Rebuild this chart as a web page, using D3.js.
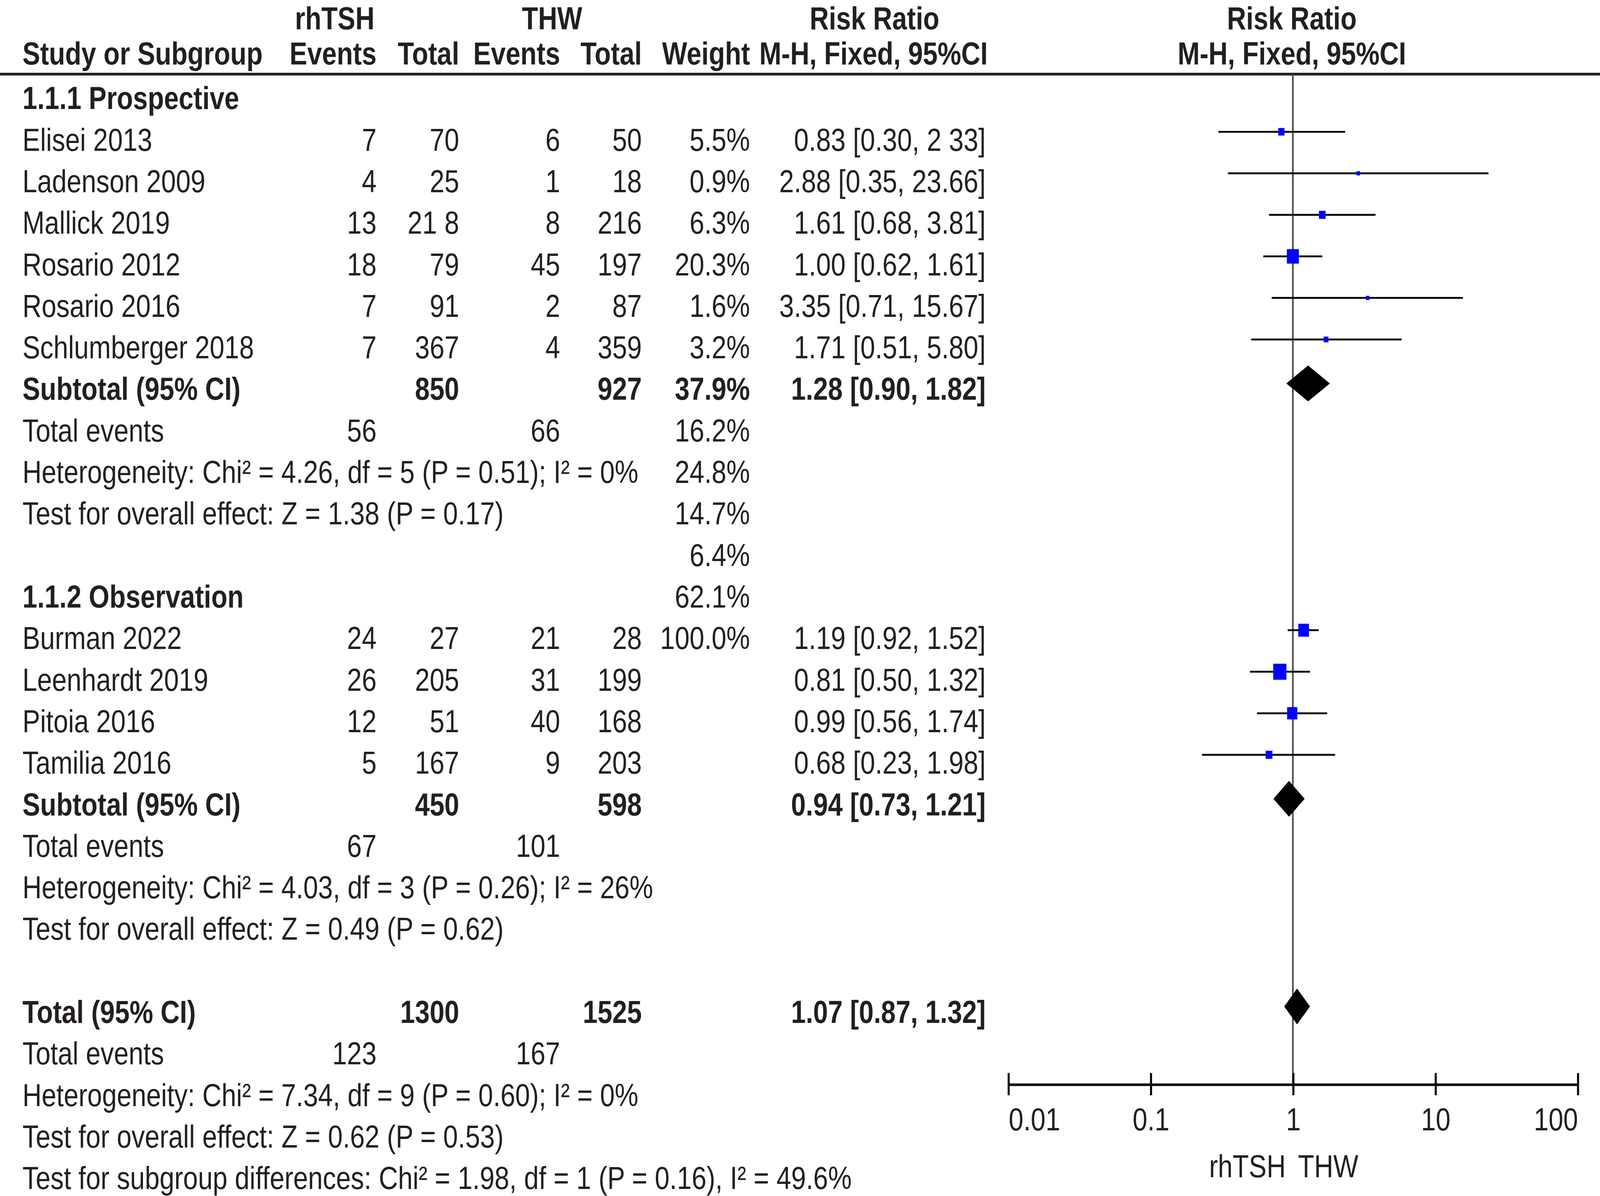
<!DOCTYPE html>
<html>
<head>
<meta charset="utf-8">
<script src="https://cdn.jsdelivr.net/npm/d3@7"></script>
<style>
  html, body { margin: 0; padding: 0; background: #fff; overflow: hidden; }
  svg { display: block; width: 100vw; height: 100vh; }
</style>
</head>
<body>
<div class="container"></div>
<script>
// table rows, one entry per printed line
const rowLabels = [
  '1.1.1 Prospective',
  'Elisei 2013',
  'Ladenson 2009',
  'Mallick 2019',
  'Rosario 2012',
  'Rosario 2016',
  'Schlumberger 2018',
  'Subtotal (95% CI)',
  'Total events',
  'Heterogeneity: Chi² = 4.26, df = 5 (P = 0.51); I² = 0%',
  'Test for overall effect: Z = 1.38 (P = 0.17)',
  '',
  '1.1.2 Observation',
  'Burman 2022',
  'Leenhardt 2019',
  'Pitoia 2016',
  'Tamilia 2016',
  'Subtotal (95% CI)',
  'Total events',
  'Heterogeneity: Chi² = 4.03, df = 3 (P = 0.26); I² = 26%',
  'Test for overall effect: Z = 0.49 (P = 0.62)',
  '',
  'Total (95% CI)',
  'Total events',
  'Heterogeneity: Chi² = 7.34, df = 9 (P = 0.60); I² = 0%',
  'Test for overall effect: Z = 0.62 (P = 0.53)',
  'Test for subgroup differences: Chi² = 1.98, df = 1 (P = 0.16), I² = 49.6%'
];
const boldLabelRows = [0, 7, 12, 17, 22];

const eventsA = ['', '7', '4', '13', '18', '7', '7', '', '56', '', '', '', '',
  '24', '26', '12', '5', '', '67', '', '', '', '', '123', '', '', ''];
const totalA = ['', '70', '25', '21 8', '79', '91', '367', '850', '', '', '', '', '',
  '27', '205', '51', '167', '450', '', '', '', '', '1300', '', '', '', ''];
const eventsB = ['', '6', '1', '8', '45', '2', '4', '', '66', '', '', '', '',
  '21', '31', '40', '9', '', '101', '', '', '', '', '167', '', '', ''];
const totalB = ['', '50', '18', '216', '197', '87', '359', '927', '', '', '', '', '',
  '28', '199', '168', '203', '598', '', '', '', '', '1525', '', '', '', ''];
const weightText = ['', '5.5%', '0.9%', '6.3%', '20.3%', '1.6%', '3.2%', '37.9%',
  '16.2%', '24.8%', '14.7%', '6.4%', '62.1%', '100.0%', '', '', '', '', '', '', '',
  '', '', '', '', '', ''];
const ratioText = ['', '0.83 [0.30, 2 33]', '2.88 [0.35, 23.66]', '1.61 [0.68, 3.81]',
  '1.00 [0.62, 1.61]', '3.35 [0.71, 15.67]', '1.71 [0.51, 5.80]', '1.28 [0.90, 1.82]',
  '', '', '', '', '', '1.19 [0.92, 1.52]', '0.81 [0.50, 1.32]', '0.99 [0.56, 1.74]',
  '0.68 [0.23, 1.98]', '0.94 [0.73, 1.21]', '', '', '', '', '1.07 [0.87, 1.32]',
  '', '', '', ''];

// forest plot marks
const studyRows = [1, 2, 3, 4, 5, 6, 13, 14, 15, 16];
const studyRR = [0.83, 2.88, 1.61, 1.0, 3.35, 1.71, 1.19, 0.81, 0.99, 0.68];
const studyLow = [0.3, 0.35, 0.68, 0.62, 0.71, 0.51, 0.92, 0.5, 0.56, 0.23];
const studyHigh = [2.33, 23.66, 3.81, 1.61, 15.67, 5.8, 1.52, 1.32, 1.74, 1.98];
const studyWeight = [5.5, 0.9, 6.3, 20.3, 1.6, 3.2, 16.2, 24.8, 14.7, 6.4];

const pooledRows = [7, 17, 22];
const pooledRR = [1.28, 0.94, 1.07];
const pooledLow = [0.9, 0.73, 0.87];
const pooledHigh = [1.82, 1.21, 1.32];

const axisTicks = [0.01, 0.1, 1, 10, 100];
const axisTickLabels = ['0.01', '0.1', '1', '10', '100'];

const width = 1568;
const height = 967.5;
const fontSize = 26;
const ink = '#231f20';
const baseShift = 9.3;

const svg = d3
  .select('.container')
  .append('svg')
  .attr('viewBox', `0 0 ${width} ${height}`)
  .attr('preserveAspectRatio', 'none')
  .style('font-family', '"Liberation Sans", Arial, sans-serif')
  .style('font-size', fontSize + 'px')
  .attr('fill', ink);

const rowY = d3.scaleLinear().domain([0, 1]).range([79, 112.6]);
const xScale = d3.scaleLog().domain([0.01, 100]).range([988, 1546]);
const axisY = 877;

// headers
const header = svg.append('g').attr('font-weight', 'bold');
const head1 = 23.6;
const head2 = 43 + baseShift;
header.append('text').attr('x', 328).attr('y', head1).attr('text-anchor', 'middle').text('rhTSH');
header.append('text').attr('x', 541).attr('y', head1).attr('text-anchor', 'middle').text('THW');
header.append('text').attr('x', 857).attr('y', head1).attr('text-anchor', 'middle').text('Risk Ratio');
header.append('text').attr('x', 1266).attr('y', head1).attr('text-anchor', 'middle').text('Risk Ratio');
header.append('text').attr('x', 22).attr('y', head2).text('Study or Subgroup');

const colHeads = [
  { x: 369, t: 'Events' },
  { x: 450, t: 'Total' },
  { x: 549, t: 'Events' },
  { x: 629, t: 'Total' },
  { x: 735, t: 'Weight' },
  { x: 968, t: 'M-H, Fixed, 95%CI' }
];
colHeads.forEach((c) =>
  header.append('text').attr('x', c.x).attr('y', head2).attr('text-anchor', 'end').text(c.t)
);
header.append('text').attr('x', 1266).attr('y', head2).attr('text-anchor', 'middle').text('M-H, Fixed, 95%CI');

svg
  .append('line')
  .attr('x1', 0)
  .attr('x2', width)
  .attr('y1', 60)
  .attr('y2', 60)
  .attr('stroke', ink)
  .attr('stroke-width', 2.2);

// table body
const columns = [
  { data: rowLabels, x: 22, anchor: 'start', bold: boldLabelRows },
  { data: eventsA, x: 369, anchor: 'end', bold: pooledRows },
  { data: totalA, x: 450, anchor: 'end', bold: pooledRows },
  { data: eventsB, x: 549, anchor: 'end', bold: pooledRows },
  { data: totalB, x: 629, anchor: 'end', bold: pooledRows },
  { data: weightText, x: 735, anchor: 'end', bold: pooledRows },
  { data: ratioText, x: 966, anchor: 'end', bold: pooledRows }
];

columns.forEach((col) => {
  svg
    .append('g')
    .selectAll('text')
    .data(col.data.map((t, i) => ({ t, i })).filter((d) => d.t !== ''))
    .enter()
    .append('text')
    .attr('x', col.x)
    .attr('y', (d) => rowY(d.i) + baseShift)
    .attr('text-anchor', col.anchor)
    .attr('font-weight', (d) => (col.bold.includes(d.i) ? 'bold' : 'normal'))
    .text((d) => d.t);
});

// line of no effect
svg
  .append('line')
  .attr('x1', xScale(1))
  .attr('x2', xScale(1))
  .attr('y1', 60)
  .attr('y2', axisY)
  .attr('stroke', '#4a4a4a')
  .attr('stroke-width', 1.6);

// study confidence intervals and squares
const studies = studyRows.map((r, i) => ({
  r,
  rr: studyRR[i],
  lo: studyLow[i],
  hi: studyHigh[i],
  w: studyWeight[i]
}));

svg
  .append('g')
  .selectAll('line')
  .data(studies)
  .enter()
  .append('line')
  .attr('x1', (d) => xScale(d.lo))
  .attr('x2', (d) => xScale(d.hi))
  .attr('y1', (d) => rowY(d.r) - 6)
  .attr('y2', (d) => rowY(d.r) - 6)
  .attr('stroke', '#000')
  .attr('stroke-width', 1.5);

const side = (w) => Math.max(3.4, 2.6 * Math.sqrt(w));
svg
  .append('g')
  .selectAll('rect')
  .data(studies)
  .enter()
  .append('rect')
  .attr('x', (d) => xScale(d.rr) - side(d.w) / 2)
  .attr('y', (d) => rowY(d.r) - 6 - side(d.w) / 2)
  .attr('width', (d) => side(d.w))
  .attr('height', (d) => side(d.w))
  .attr('fill', '#0000ff');

// pooled diamonds
const pooled = pooledRows.map((r, i) => ({
  r,
  rr: pooledRR[i],
  lo: pooledLow[i],
  hi: pooledHigh[i]
}));
const halfH = 14.5;
svg
  .append('g')
  .selectAll('path')
  .data(pooled)
  .enter()
  .append('path')
  .attr('d', (d) => {
    const cy = rowY(d.r) - 4;
    return `M${xScale(d.lo)},${cy}L${xScale(d.rr)},${cy - halfH}L${xScale(d.hi)},${cy}L${xScale(d.rr)},${cy + halfH}Z`;
  })
  .attr('fill', '#000');

// log axis
const xAxis = d3
  .axisBottom(xScale)
  .tickValues(axisTicks)
  .tickSize(9)
  .tickSizeOuter(0)
  .tickPadding(0)
  .tickFormat((d, i) => axisTickLabels[i]);

const axisG = svg
  .append('g')
  .attr('transform', `translate(0,${axisY})`)
  .call(xAxis);
axisG.select('.domain').attr('stroke', '#000').attr('stroke-width', 2);
axisG.selectAll('.tick line').attr('y1', -9).attr('y2', 9).attr('stroke', '#000').attr('stroke-width', 2);
axisG
  .selectAll('.tick text')
  .attr('dy', null)
  .attr('y', 28 + baseShift)
  .attr('fill', ink)
  .style('font-size', fontSize + 'px')
  .style('font-family', '"Liberation Sans", Arial, sans-serif')
  .attr('text-anchor', (d, i) => (i === 0 ? 'start' : i === axisTicks.length - 1 ? 'end' : 'middle'));

svg
  .append('text')
  .attr('x', xScale(1) - 7)
  .attr('y', 943 + baseShift)
  .attr('text-anchor', 'end')
  .text('rhTSH');
svg
  .append('text')
  .attr('x', xScale(1) + 5)
  .attr('y', 943 + baseShift)
  .attr('text-anchor', 'start')
  .text('THW');
</script>
</body>
</html>
